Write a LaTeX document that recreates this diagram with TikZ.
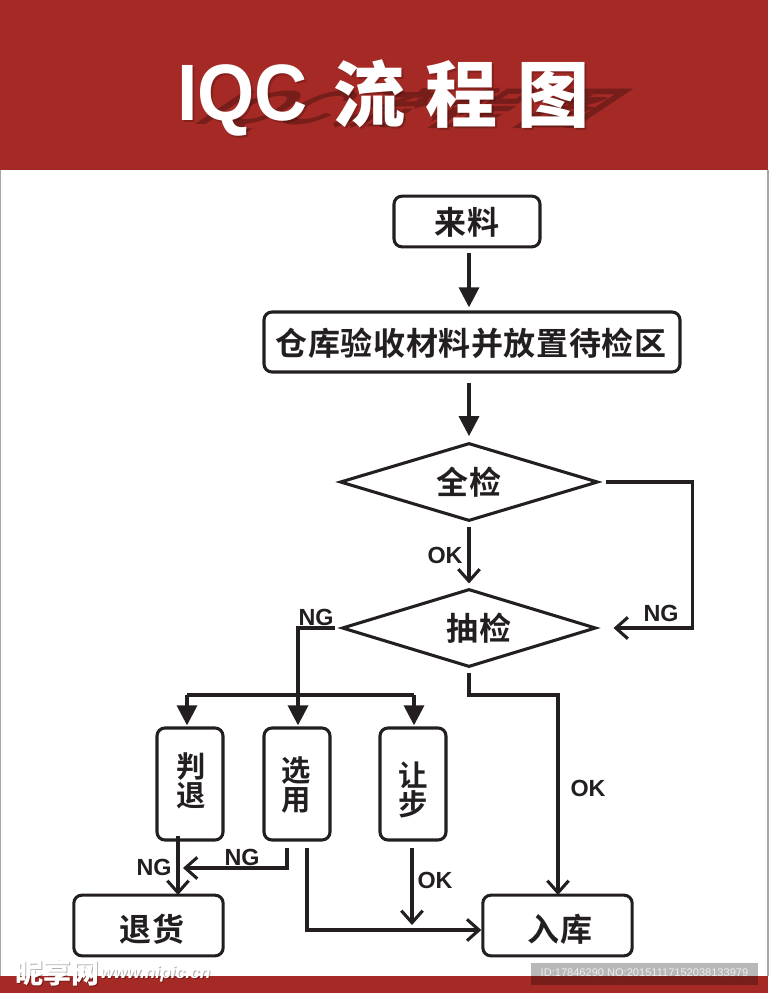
\documentclass[tikz,border=0pt]{standalone}
\usepackage{fontspec}
\usetikzlibrary{arrows.meta,shapes.geometric,calc}
\setmainfont{Liberation Sans}
\newfontfamily\cjk{Noto Sans CJK SC}[BoldFont={Noto Sans CJK SC Black}]
\newfontfamily\cjkspaced{Noto Sans CJK SC}[BoldFont={Noto Sans CJK SC Bold},LetterSpace=2]
\definecolor{bandred}{HTML}{A52A25}
\definecolor{ink}{HTML}{231F20}
\newcommand{\titletext}{{\fontsize{60}{60}\selectfont\bfseries\scalebox{0.92}[1]{IQC}}}
\newcommand{\titlecjk}{{\cjk\bfseries\fontsize{54}{54}\selectfont 流\hspace{15pt}程\hspace{15pt}图}}
\tikzset{
  flowbox/.style={draw=ink,line width=2.3pt,rounded corners=6pt,fill=white,inner sep=0pt},
  flowdia/.style={diamond,draw=ink,line width=2.3pt,inner sep=0pt,aspect=3.25},
  boxtext/.style={inner sep=0pt,text=ink,align=center,font=\cjkspaced\bfseries\fontsize{24}{22}\selectfont},
  stacktext/.style={inner sep=0pt,text=ink,align=center,font=\cjkspaced\bfseries\fontsize{22}{22}\selectfont},
  heavy/.style={draw=ink,line width=2.6pt,-{Triangle[length=15pt,width=15pt]}},
  light/.style={draw=ink,line width=2.3pt,-{Straight Barb[length=9pt,width=16pt,line width=2.3pt]}},
  plain/.style={draw=ink,line width=2.3pt},
  lab/.style={font=\bfseries\fontsize{17.5}{17.5}\selectfont,text=ink,inner sep=0pt},
  titlelab/.style={text=white,inner sep=0pt,anchor=base west},
  shadowlab/.style={text=black,inner sep=0pt,anchor=base west,transform shape,opacity=0.28},
}
\begin{document}
\begin{tikzpicture}[x=0.75pt,y=-0.75pt]
\useasboundingbox (0,0) rectangle (768,993);
% bands
\fill[white] (0,0) rectangle (768,993);
\draw[gray!70,line width=0.8pt] (0,170) -- (0,976) (768,170) -- (768,976);
\fill[bandred] (0,0) rectangle (768,170);
\fill[bandred] (0,976) rectangle (768,993);
% title shadow
\begin{scope}[shift={(190,124)},cm={1,0,0.9,0.6,(0,0)}]
  \node[shadowlab] (shadowA) at (0,0) {\titletext};
  \node[shadowlab] (shadowB) at (139,0) {\titlecjk};
\end{scope}
\node[titlelab,text=black,opacity=0.2] (titleAs) at (179,122) {\titletext};
\node[titlelab,text=black,opacity=0.2] (titleBs) at (335,123) {\titlecjk};
\node[titlelab] (titleA) at (177,120) {\titletext};
\node[titlelab] (titleB) at (333,121) {\titlecjk};
% nodes
\node[flowbox,minimum width=109.5pt,minimum height=38pt] (lai) at (467,221.5) {};
\node[flowbox,minimum width=312pt,minimum height=45pt] (cang) at (472,342) {};
\node[flowdia,minimum width=193.5pt,minimum height=58.5pt] (quan) at (469,482) {};
\node[flowdia,minimum width=190.5pt,minimum height=58.5pt] (chou) at (469,628) {};
\node[flowbox,minimum width=49.5pt,minimum height=84pt] (pan) at (190,784) {};
\node[flowbox,minimum width=49.5pt,minimum height=84pt] (xuan) at (297,784) {};
\node[flowbox,minimum width=49.5pt,minimum height=84pt] (rang) at (413,784) {};
\node[flowbox,minimum width=112pt,minimum height=45.5pt] (tui) at (148.5,925.5) {};
\node[flowbox,minimum width=112pt,minimum height=45.5pt] (ru) at (557.5,925.5) {};
% box texts
\node[boxtext] (laiT) at (467,222) {来料};
\node[boxtext] (cangT) at (471,343) {仓库验收材料并放置待检区};
\node[boxtext] (quanT) at (469,482) {全检};
\node[boxtext] (chouT) at (479,628) {抽检};
\node[stacktext] (panT) at (191,781) {判\\退};
\node[stacktext] (xuanT) at (296,785) {选\\用};
\node[stacktext] (rangT) at (413,790) {让\\步};
\node[boxtext] (tuiT) at (152,929) {退货};
\node[boxtext] (ruT) at (560,929) {入库};
% junctions
\coordinate (bar) at (298,695);
\coordinate (barL) at (187,695);
\coordinate (barR) at (414,695);
\coordinate (joinT) at (183,868);
\coordinate (joinR) at (412,925);
% connectors
\draw[heavy,shorten <=4.5pt,shorten >=3.5pt] (469,247) -- (469,312);
\draw[heavy,shorten <=8pt,shorten >=4pt] (469,372) -- (quan.north);
\draw[light,shorten <=3pt,shorten >=3pt] (quan.south) -- (chou.north);
\draw[light,shorten <=4.5pt] (quan.east) -- ++(93,0) |- ($(chou.east)+(16,0)$);
\draw[plain,shorten <=4pt] (chou.west) -- (298,628) -- (bar);
\draw[heavy,shorten >=2pt] (bar) -- (298,728);
\draw[plain] (barL) -- (barR);
\draw[heavy,shorten >=2pt] (barL) -- (187,728);
\draw[heavy,shorten >=2pt] (barR) -- (414,728);
\draw[light,shorten <=3pt] (chou.south) -- (469,695) -- (558,695) -- (558,895);
\draw[light] (178,836) -- (178,895);
\draw[light] (287,848) -- (287,868) -- (joinT);
\draw[light] (307,848) -- (307,930) -- (ru.west |- 0,930);
\draw[light] (412,848) -- (joinR);
% labels
\node[lab] (okA) at (445,555) {OK};
\node[lab] (ngA) at (661,613) {NG};
\node[lab] (ngB) at (316,617) {NG};
\node[lab] (okB) at (588,788) {OK};
\node[lab] (ngC) at (154,867) {NG};
\node[lab] (ngD) at (242,857) {NG};
\node[lab] (okC) at (435,880) {OK};
% watermark
\fill[black,opacity=0.28] (531,963) rectangle (758,985);
\node[inner sep=0pt,text=white,opacity=0.75,font=\fontsize{8.3}{9}\selectfont] (wmid) at (644.5,973) {ID:17846290 NO:20151117152038133979};
\node[inner sep=0pt,anchor=west,text=black,opacity=0.3,font=\cjk\bfseries\fontsize{21}{21}\selectfont] (wmcs) at (16,974) {昵享网};
\node[inner sep=0pt,anchor=west,text=white,font=\cjk\bfseries\fontsize{21}{21}\selectfont] (wmc) at (15,973) {昵享网};
\node[inner sep=0pt,anchor=west,text=black,opacity=0.3,font=\bfseries\itshape\fontsize{13}{13}\selectfont] (wmus) at (101,975) {www.nipic.cn};
\node[inner sep=0pt,anchor=west,text=white,font=\bfseries\itshape\fontsize{13}{13}\selectfont] (wmu) at (100,974) {www.nipic.cn};
\end{tikzpicture}
\end{document}
